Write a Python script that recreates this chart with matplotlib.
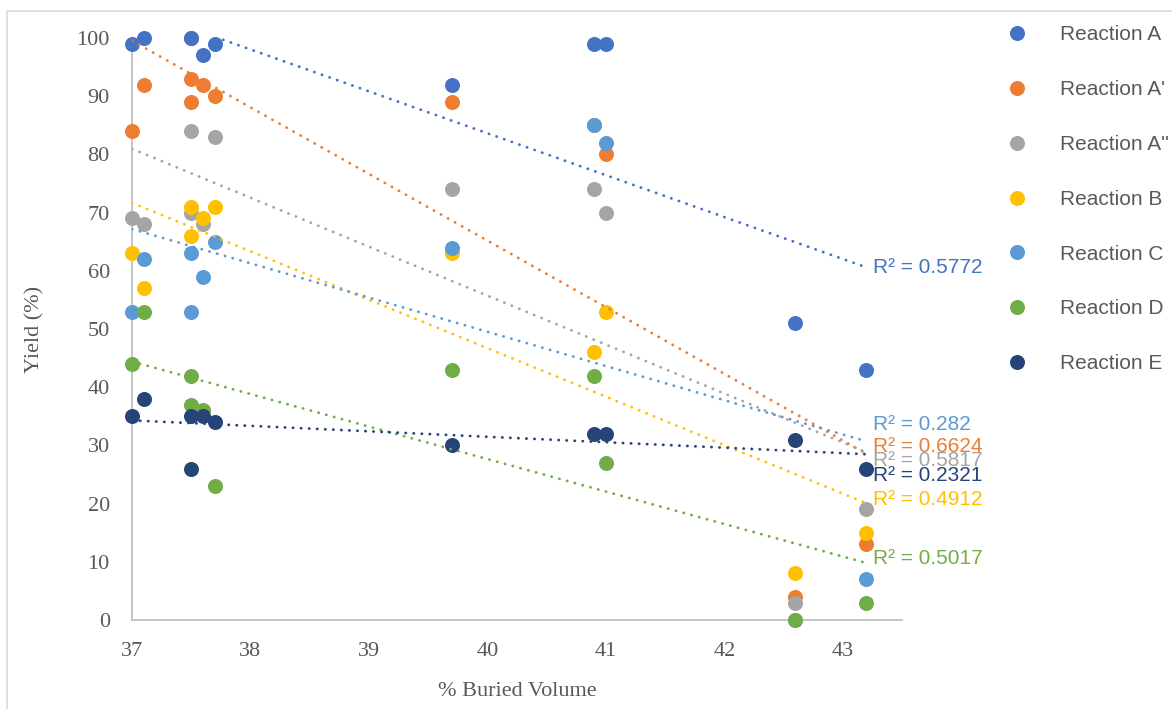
import numpy as np
import matplotlib
matplotlib.use('Agg')
import matplotlib.pyplot as plt
from matplotlib.patches import Rectangle

# % buried volume of each catalyst
buried_volume = [37.0, 37.1, 37.5, 37.5, 37.6, 37.7, 39.7, 40.9, 41.0, 42.6, 43.2]

# yields (%) per reaction
yield_a = [99, 100, 100, 100, 97, 99, 92, 99, 99, 51, 43]
yield_a1 = [84, 92, 93, 89, 92, 90, 89, 85, 80, 4, 13]
yield_a2 = [69, 68, 84, 70, 68, 83, 74, 74, 70, 3, 19]
yield_b = [63, 57, 71, 66, 69, 71, 63, 46, 53, 8, 15]
yield_c = [53, 62, 63, 53, 59, 65, 64, 85, 82, 0, 7]
yield_d = [44, 53, 42, 37, 36, 23, 43, 42, 27, 0, 3]
yield_e = [35, 38, 35, 26, 35, 34, 30, 32, 32, 31, 26]

series_names = ['Reaction A', "Reaction A'", "Reaction A''", 'Reaction B',
                'Reaction C', 'Reaction D', 'Reaction E']
r_squared = ['0.5772', '0.6624', '0.5817', '0.4912', '0.282', '0.5017', '0.2321']

colors = ['#4472C4', '#ED7D31', '#A5A5A5', '#FFC000', '#5B9BD5', '#70AD47', '#264478']
# offsets (pt) of the R² labels from the end of each trendline
label_dy = [0, 5.5, -6, 3, 12, 3.5, -15]

all_yields = [yield_a, yield_a1, yield_a2, yield_b, yield_c, yield_d, yield_e]

fig = plt.figure(figsize=(11.72, 7.09), dpi=100)
fig.patches.append(Rectangle((7 / 1172, -0.1), 1.2, 1 - 11 / 709 + 0.1,
                             transform=fig.transFigure, fill=False,
                             edgecolor='#D9D9D9', linewidth=1.2))
ax = fig.add_axes([132 / 1172, 1 - 620 / 709, (902 - 132) / 1172, (620 - 38) / 709])

x = np.array(buried_volume)
handles = []
for name, ys, c in zip(series_names, all_yields, colors):
    h, = ax.plot(x, ys, 'o', color=c, markersize=10.8, markeredgewidth=0,
                 clip_on=False, zorder=3, label=name)
    handles.append(h)

# linear trendlines over the data range, drawn on top of the markers
xf = np.array([x.min(), x.max()])
for ys, c, r2, dy in zip(all_yields, colors, r_squared, label_dy):
    k, b = np.polyfit(x, ys, 1)
    ax.plot(xf, k * xf + b, color=c, linewidth=2.0,
            linestyle=(0, (0.1, 2.8)), dash_capstyle='round', zorder=4)
    ax.annotate('R\u00b2 = ' + r2, (xf[1], k * xf[1] + b), xytext=(5, dy),
                textcoords='offset points', va='center', ha='left',
                color=c, fontsize=15, family='Liberation Sans',
                annotation_clip=False, zorder=5)

ax.set_xlim(37, 43.5)
ax.set_ylim(0, 100)
ax.set_xticks(range(37, 44))
ax.set_yticks(range(0, 101, 10))
for s in ['top', 'right']:
    ax.spines[s].set_visible(False)
for s in ['left', 'bottom']:
    ax.spines[s].set_color('#BFBFBF')
    ax.spines[s].set_linewidth(1.3)
ax.tick_params(length=0, labelsize=16, labelcolor='#595959')
ax.tick_params(axis='y', pad=16)
ax.tick_params(axis='x', pad=16)
for lab in ax.get_xticklabels() + ax.get_yticklabels():
    lab.set_family('Liberation Serif')

ax.set_xlabel('% Buried Volume', fontsize=16, color='#595959',
              family='Liberation Serif', labelpad=15)
ax.set_ylabel('Yield (%)', fontsize=16, color='#595959',
              family='Liberation Serif', labelpad=23)

fig.legend(handles=handles, loc='upper left', bbox_to_anchor=(998 / 1172, 1 - 17 / 709),
           frameon=False, handlelength=1.0, handletextpad=1.56, labelspacing=1.72,
           prop={'family': 'Liberation Sans', 'size': 15}, labelcolor='#595959',
           markerscale=1.0, borderaxespad=0)

fig.savefig('out.png', dpi=100)
